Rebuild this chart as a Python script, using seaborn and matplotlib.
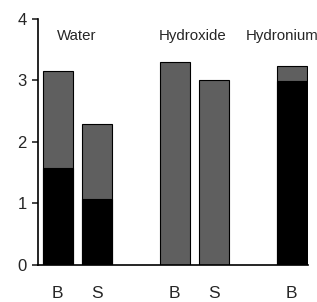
import numpy as np
import pandas as pd
import matplotlib
matplotlib.use("Agg")
import matplotlib.pyplot as plt
import seaborn as sns

# data
positions = [0, 1, 3, 4, 6]
bar_labels = ["B", "S", "B", "S", "B"]
black_part = [1.58, 1.08, 0.0, 0.0, 2.99]
totals = [3.16, 2.29, 3.30, 3.01, 3.23]
groups = ["Water", "Hydroxide", "Hydronium"]
group_x = [0.49, 3.46, 5.75]

sns.set_style("ticks")
plt.rcParams["font.family"] = ["Liberation Sans", "DejaVu Sans"]

fig = plt.figure(figsize=(3.17, 3.02), dpi=100)
ax = fig.add_axes([0.12, 0.1225, 0.852, 0.815])

df = pd.DataFrame({"pos": positions, "total": totals, "black": black_part})
sns.barplot(data=df, x="pos", y="total", native_scale=True, width=0.77,
            color="#5f5f5f", edgecolor="black", linewidth=0.8, saturation=1, ax=ax)
sns.barplot(data=df, x="pos", y="black", native_scale=True, width=0.77,
            color="black", edgecolor="black", linewidth=0.8, saturation=1, ax=ax)

for g, gx in zip(groups, group_x):
    ax.text(gx, 3.72, g, ha="center", va="center", fontsize=10.8, clip_on=False)

ax.set_xlim(-0.505, 6.42)
ax.set_ylim(0, 4)
ax.set_yticks([0, 1, 2, 3, 4])
ax.set_xticks(positions)
ax.set_xticklabels(bar_labels)
ax.tick_params(axis="x", length=0, pad=15, labelsize=12.5)
ax.tick_params(axis="y", length=4, width=1.2, labelsize=12, pad=4)
ax.set_xlabel("")
ax.set_ylabel("")
sns.despine(ax=ax)
for s in ["left", "bottom"]:
    ax.spines[s].set_linewidth(1.2)
    ax.spines[s].set_color("black")

fig.savefig("out.png", dpi=100)
